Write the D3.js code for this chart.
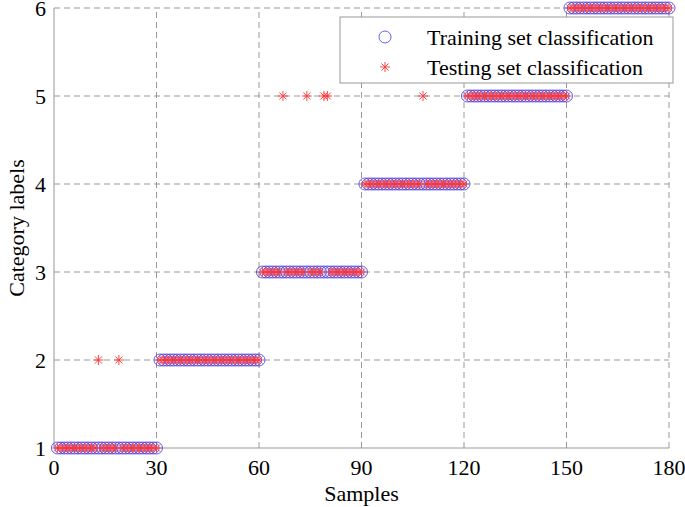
<!DOCTYPE html>
<html><head><meta charset="utf-8">
<script src="https://cdn.jsdelivr.net/npm/d3@7"></script>
<style>body{margin:0;background:#fff}svg{display:block}text{font-family:"Liberation Serif","Times New Roman",serif}</style>
</head><body>
<script>
const xTicks = [0, 30, 60, 90, 120, 150, 180];
const yTicks = [1, 2, 3, 4, 5, 6];
const samples = d3.range(1, 181);
const classes = [1, 2, 3, 4, 5, 6];
const samplesPerClass = 30;
// training labels (true class of each sample)
const trainLabels = samples.map(s => classes[Math.floor((s - 1) / samplesPerClass)]);
// testing misclassifications: sample -> predicted label
const misSamples = [13, 19, 67, 74, 79, 80, 108];
const misLabels = [2, 2, 5, 5, 5, 5, 5];
const testLabels = samples.map((s, i) => {
  const k = misSamples.indexOf(s);
  return k >= 0 ? misLabels[k] : trainLabels[i];
});

const W = 685, H = 507;
const m = {l: 54, r: 16, t: 8, b: 59};
const svg = d3.select("body").append("svg").attr("width", W).attr("height", H);
const x = d3.scaleLinear().domain([0, 180]).range([m.l, W - m.r]);
const y = d3.scaleLinear().domain([1, 6]).range([H - m.b, m.t]);
const fs = 22;

// grid
const g = svg.append("g");
g.selectAll(".gx").data(xTicks.slice(1)).enter().append("line")
  .attr("x1", d => x(d)).attr("x2", d => x(d)).attr("y1", y(1)).attr("y2", y(6))
  .attr("stroke", "#999").attr("stroke-dasharray", "6,4").attr("stroke-width", 1);
g.selectAll(".gy").data(yTicks.slice(1)).enter().append("line")
  .attr("y1", d => y(d)).attr("y2", d => y(d)).attr("x1", x(0)).attr("x2", x(180))
  .attr("stroke", "#999").attr("stroke-dasharray", "6,4").attr("stroke-width", 1);

// axes lines
svg.append("line").attr("x1", x(0)).attr("x2", x(0)).attr("y1", y(1)).attr("y2", y(6)).attr("stroke", "#999");
svg.append("line").attr("x1", x(0)).attr("x2", x(180)).attr("y1", y(1)).attr("y2", y(1)).attr("stroke", "#999");

// tick labels
svg.selectAll(".xl").data(xTicks).enter().append("text")
  .attr("x", d => x(d)).attr("y", y(1) + 27).attr("text-anchor", "middle")
  .attr("font-size", fs).text(d => d);
svg.selectAll(".yl").data(yTicks).enter().append("text")
  .attr("x", x(0) - 8).attr("y", d => y(d) + 7.5).attr("text-anchor", "end")
  .attr("font-size", fs).text(d => d);

svg.append("text").attr("x", x(90)).attr("y", H - 6).attr("text-anchor", "middle")
  .attr("font-size", fs).text("Samples");
svg.append("text").attr("transform", `translate(24,${y(3.5)}) rotate(-90)`).attr("text-anchor", "middle")
  .attr("font-size", fs).text("Category labels");

// training circles
svg.append("g").selectAll("circle").data(samples).enter().append("circle")
  .attr("cx", d => x(d)).attr("cy", (d, i) => y(trainLabels[i])).attr("r", 6)
  .attr("fill", "none").attr("stroke", "#3a3af0").attr("stroke-width", 0.8);

// star marker path
function star(cx, cy, r) {
  let p = "";
  for (let a = 0; a < 4; a++) {
    const ang = a * Math.PI / 4;
    const dx = r * Math.cos(ang), dy = r * Math.sin(ang);
    p += `M${cx - dx},${cy - dy}L${cx + dx},${cy + dy}`;
  }
  return p;
}
svg.append("g").selectAll("path").data(samples).enter().append("path")
  .attr("d", (d, i) => star(x(d), y(testLabels[i]), 5))
  .attr("stroke", "#ff3333").attr("stroke-width", 0.9).attr("fill", "none");

// legend
const lg = svg.append("g");
lg.append("rect").attr("x", 340).attr("y", 17).attr("width", 333).attr("height", 66)
  .attr("fill", "#fff").attr("stroke", "#999");
lg.append("circle").attr("cx", 385).attr("cy", 37).attr("r", 6).attr("fill", "none").attr("stroke", "#3a3af0").attr("stroke-width", 0.8);
lg.append("path").attr("d", star(385, 67, 5)).attr("stroke", "#ff3333").attr("stroke-width", 0.9);
lg.append("text").attr("x", 427).attr("y", 45).attr("font-size", fs).text("Training set classification");
lg.append("text").attr("x", 427).attr("y", 75).attr("font-size", fs).text("Testing set classification");
</script>
</body></html>
